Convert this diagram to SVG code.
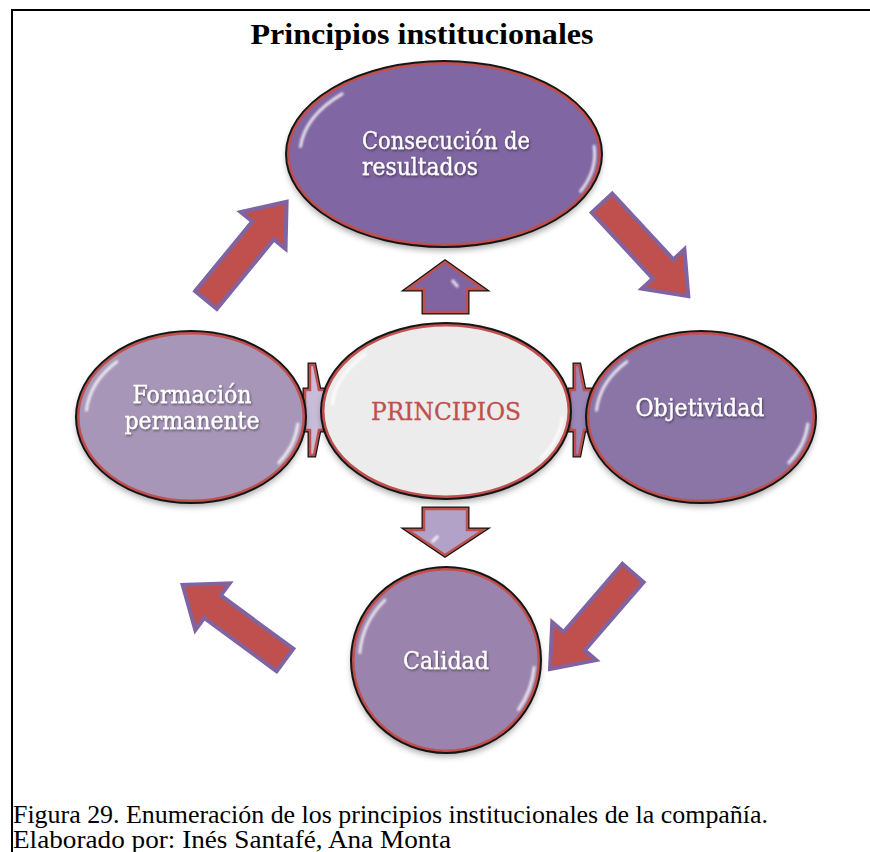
<svg xmlns="http://www.w3.org/2000/svg" width="870" height="852" viewBox="0 0 870 852">
<defs>
<filter id="sh" x="-20%" y="-20%" width="140%" height="150%"><feDropShadow dx="0" dy="4" stdDeviation="3" flood-color="#000" flood-opacity="0.35"/></filter>
<filter id="bl" x="-20%" y="-20%" width="140%" height="140%"><feGaussianBlur stdDeviation="1"/></filter>
<filter id="ts" x="-10%" y="-30%" width="120%" height="160%"><feDropShadow dx="1" dy="1.5" stdDeviation="1.2" flood-color="#000" flood-opacity="0.45"/></filter>
<path id="big" d="M0,-14 L90,-14 L90,-29 L127,0 L90,29 L90,14 L0,14 Z"/>
<style>
.ol{fill:none;stroke:#151515;stroke-width:2}
.rd{stroke:#c0504d;stroke-width:3}
.hl{fill:none;stroke:#fff;stroke-width:3;stroke-linecap:round;opacity:.8;filter:url(#bl)}
.lbl{font-family:"DejaVu Serif",serif;fill:#fff;font-size:24px;stroke:#fff;stroke-width:0.3;filter:url(#ts)}
.bigarrow{fill:#c0504d;stroke:#8064a2;stroke-width:4;stroke-linejoin:miter}
.sk{stroke:#151515;stroke-width:5;stroke-linejoin:miter;fill:none}
.sr{stroke:#c0504d;stroke-width:2.5;stroke-linejoin:miter}
.cap{font-family:"Liberation Serif",serif;font-size:25px;fill:#000}
</style>
</defs>
<rect x="0" y="0" width="870" height="852" fill="#fff"/>
<path d="M12,852 L12,10 L870,10" fill="none" stroke="#000" stroke-width="2"/>
<text x="422" y="44" text-anchor="middle" font-family="Liberation Serif,serif" font-weight="bold" font-size="30" textLength="343" lengthAdjust="spacingAndGlyphs">Principios institucionales</text>

<g id="connectors">
<use href="#big" class="bigarrow" transform="translate(206,300) rotate(-50.6)"/>
<use href="#big" class="bigarrow" transform="translate(602,203) rotate(47.2)"/>
<use href="#big" class="bigarrow" transform="translate(633,573) rotate(130.8)"/>
<use href="#big" class="bigarrow" transform="translate(285,660) rotate(216.3)"/>
<g id="arrow-up">
<polygon class="sk" points="445,262 483,289 467,289 467,312 424,312 424,289 408,289"/>
<polygon class="sr" fill="#8064a2" points="445,262 483,289 467,289 467,312 424,312 424,289 408,289"/>
<path d="M431,304 L460,304" stroke="#d9c9f0" stroke-width="4" filter="url(#bl)"/>
<path d="M452,280 L458,287" stroke="#e6dcf5" stroke-width="3" filter="url(#bl)"/>
</g>
<g id="arrow-down">
<polygon class="sk" points="424,509 467,509 467,530 483,530 445,555 408,530 424,530"/>
<polygon class="sr" fill="#b3a2c7" points="424,509 467,509 467,530 483,530 445,555 408,530 424,530"/>
<path d="M431,516 L460,516" stroke="#efe8f8" stroke-width="4" filter="url(#bl)"/>
<path d="M438,536 L432,542" stroke="#f5f0fb" stroke-width="3" filter="url(#bl)"/>
</g>
<g id="link-left">
<polygon class="sk" points="310,365 314,365 319,390 325,390 325,430 319,430 314,455 310,455 310,430 305,430 305,390 310,390"/>
<polygon class="sr" fill="#c9bcd9" points="310,365 314,365 319,390 325,390 325,430 319,430 314,455 310,455 310,430 305,430 305,390 310,390"/>
</g>
<g id="link-right">
<polygon class="sk" points="575,365 579,365 584,390 590,390 590,430 584,430 579,455 575,455 575,430 570,430 570,390 575,390"/>
<polygon class="sr" fill="#9c88b8" points="575,365 579,365 584,390 590,390 590,430 584,430 579,455 575,455 575,430 570,430 570,390 575,390"/>
</g>
</g>

<g id="node-consecucion">
<ellipse cx="444" cy="154" rx="156" ry="91" fill="#8066a2" class="rd" filter="url(#sh)"/>
<ellipse cx="444" cy="154" rx="158" ry="93" class="ol"/>
<path class="hl" d="M300.5,146.6 A144,85 0 0 1 342.2,93.9"/>
<path class="hl" d="M594.1,146.3 A150.7,88.3 0 0 1 580.6,191.3"/>
<text class="lbl" x="362" y="149" textLength="168" lengthAdjust="spacingAndGlyphs">Consecución de</text>
<text class="lbl" x="362" y="175" textLength="116" lengthAdjust="spacingAndGlyphs">resultados</text>
</g>

<g id="node-principios">
<ellipse cx="446" cy="411" rx="123" ry="86" fill="#ececec" class="rd" filter="url(#sh)"/>
<ellipse cx="446" cy="411" rx="125" ry="88" class="ol"/>
<path class="hl" d="M332.3,404 A114.1,80 0 0 1 365.3,354.4"/>
<path class="hl" d="M562.2,418.1 A116.6,81.8 0 0 1 541.5,457.9"/>
<text x="446" y="420" text-anchor="middle" font-family="DejaVu Serif,serif" font-size="24" fill="#c0504d" stroke="#c0504d" stroke-width="0.3" textLength="150" lengthAdjust="spacingAndGlyphs">PRINCIPIOS</text>
</g>

<g id="node-formacion">
<ellipse cx="191" cy="417" rx="113" ry="84" fill="#a796b8" class="rd" filter="url(#sh)"/>
<ellipse cx="191" cy="417" rx="115" ry="86" class="ol"/>
<path class="hl" d="M86.5,410.2 A104.9,78.2 0 0 1 116.8,361.7"/>
<path class="hl" d="M297.8,424 A107.2,79.9 0 0 1 278.8,462.8"/>
<text class="lbl" x="192" y="403" text-anchor="middle" textLength="119" lengthAdjust="spacingAndGlyphs">Formación</text>
<text class="lbl" x="192" y="429" text-anchor="middle" textLength="135" lengthAdjust="spacingAndGlyphs">permanente</text>
</g>

<g id="node-objetividad">
<ellipse cx="701" cy="417" rx="113" ry="84" fill="#8a74a6" class="rd" filter="url(#sh)"/>
<ellipse cx="701" cy="417" rx="115" ry="86" class="ol"/>
<path class="hl" d="M596.5,410.2 A104.9,78.2 0 0 1 626.8,361.7"/>
<path class="hl" d="M807.8,424 A107.2,79.9 0 0 1 788.8,462.8"/>
<text class="lbl" x="700" y="416" text-anchor="middle" textLength="129" lengthAdjust="spacingAndGlyphs">Objetividad</text>
</g>

<g id="node-calidad">
<ellipse cx="446" cy="660" rx="93" ry="91" fill="#9a84ad" class="rd" filter="url(#sh)"/>
<ellipse cx="446" cy="660" rx="95" ry="93" class="ol"/>
<path class="hl" d="M359.8,652.6 A86.5,84.6 0 0 1 384.8,600.2"/>
<path class="hl" d="M534.1,667.5 A88.4,86.5 0 0 1 518.4,709.6"/>
<text class="lbl" x="446" y="669" text-anchor="middle" textLength="86" lengthAdjust="spacingAndGlyphs">Calidad</text>
</g>

<text class="cap" x="13" y="823" textLength="755" lengthAdjust="spacingAndGlyphs">Figura 29. Enumeración de los principios institucionales de la compañía.</text>
<text class="cap" x="13" y="848" textLength="438" lengthAdjust="spacingAndGlyphs">Elaborado por: Inés Santafé, Ana Monta</text>
</svg>
